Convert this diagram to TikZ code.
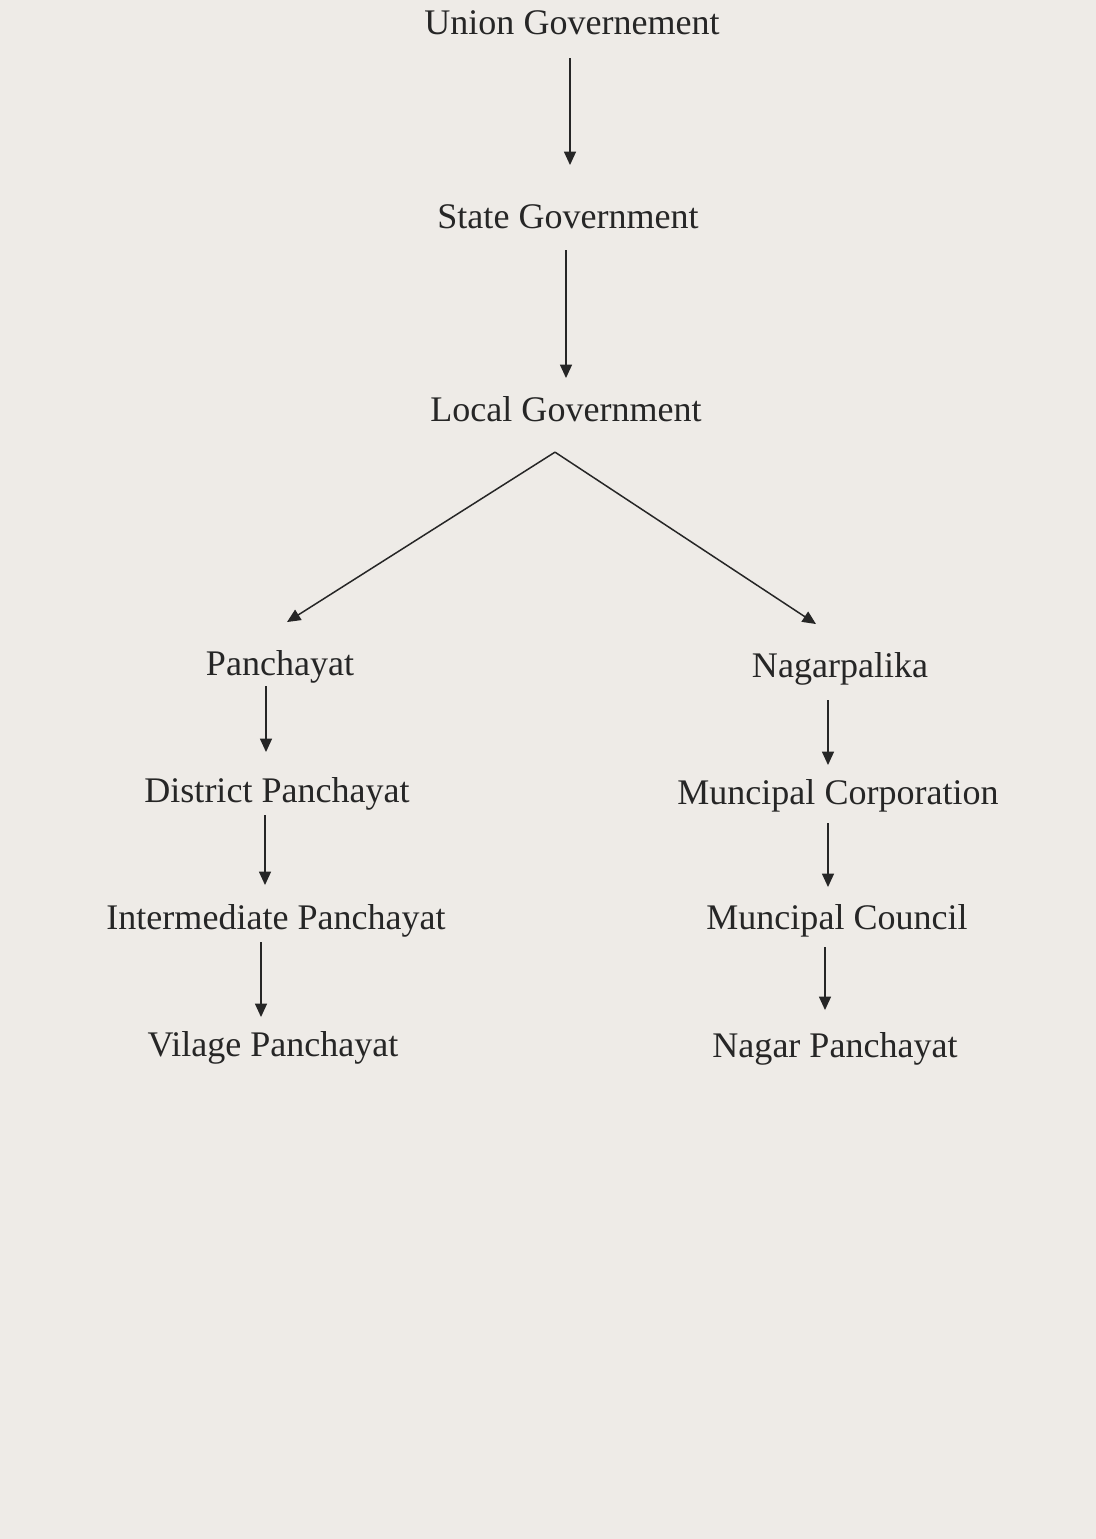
\documentclass[tikz,border=0pt]{standalone}
\usepackage{fontspec}
\setmainfont{Liberation Serif}
\usepackage{tikz}
\usetikzlibrary{arrows.meta,positioning,calc}
\definecolor{paper}{HTML}{EEEBE7}
\definecolor{ink}{HTML}{262626}

\begin{document}
\begin{tikzpicture}[x=0.2mm,y=-0.2mm,
    font=\fontsize{20.5}{24}\selectfont,
    lvl/.style={anchor=base,inner sep=0pt,text height=14pt,text depth=5pt,text=ink},
    flow/.style={-{Triangle[length=2.7mm,width=2.4mm]},line width=0.85pt,ink}]
  \fill[paper] (0,0) rectangle (1096,1539);

  \node[lvl] (ug)  at (572,35)   {Union Governement};
  \node[lvl] (sg)  at (568,228)  {State Government};
  \node[lvl] (lg)  at (566,421)  {Local Government};
  \coordinate (fork) at ([shift={(-11,22)}]lg.south);

  \node[lvl] (pan) at (280,675)  {Panchayat};
  \node[lvl] (dp)  at (277,802)  {District Panchayat};
  \node[lvl] (ip)  at (276,929)  {Intermediate Panchayat};
  \node[lvl] (vp)  at (273,1056) {Vilage Panchayat};

  \node[lvl] (nag) at (840,677)  {Nagarpalika};
  \node[lvl] (mc)  at (838,804)  {Muncipal Corporation};
  \node[lvl] (mcl) at (837,929)  {Muncipal Council};
  \node[lvl] (np)  at (835,1057) {Nagar Panchayat};

  \foreach \a/\b/\d/\s/\e in {ug/sg/-2/14/38,sg/lg/-2/13/18,
      pan/dp/-14/2/25,dp/ip/-12/4/19,ip/vp/-15/4/14,
      nag/mc/-12/14/14,mc/mcl/-10/10/17,mcl/np/-12/9/22}
    \draw[flow,shorten <=\s*0.2mm,shorten >=\e*0.2mm]
      ([xshift=\d*0.2mm]\a.south) -- ([xshift=\d*0.2mm]\a.south |- \b.north);

  \draw[flow] (fork) -- ([shift={(7,-28)}]pan.north);
  \draw[flow] (fork) -- ([shift={(-24,-28)}]nag.north);
\end{tikzpicture}
\end{document}
